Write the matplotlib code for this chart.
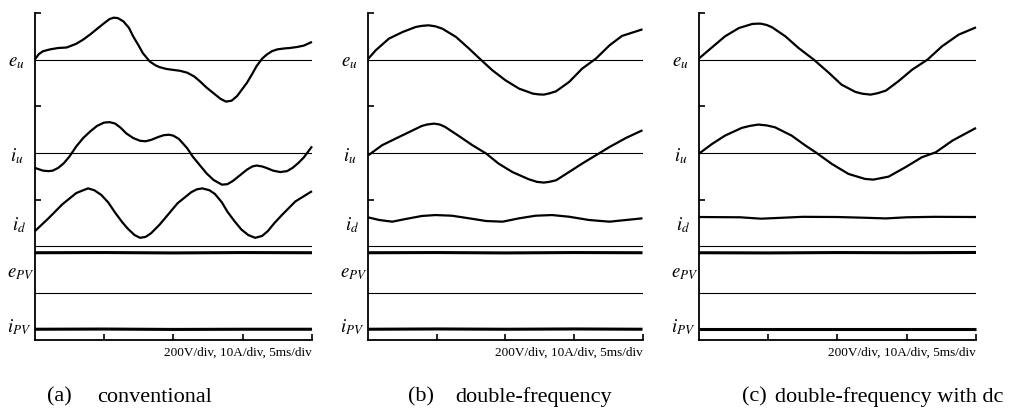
import matplotlib
matplotlib.use('Agg')
import matplotlib.pyplot as plt

plt.rcParams['font.family'] = 'Liberation Serif'
plt.rcParams['mathtext.fontset'] = 'stix'

W, H = 1015, 412
DPI = 100

# time in ms (5 ms/div), values in scope divisions relative to each channel's zero line
ZERO = {'eu': 3.0, 'iu': 2.0, 'id': 1.0, 'epv': 0.5, 'ipv': 0.0}
LABELS = {'eu': '$e_u$', 'iu': '$i_u$', 'id': '$i_d$', 'epv': '$e_{PV}$', 'ipv': '$i_{PV}$'}
LABEL_Y = {'eu': 2.97, 'iu': 1.97, 'id': 1.23, 'epv': 0.71, 'ipv': 0.13}
LABEL_DX = {'eu': -27, 'iu': -25, 'id': -23, 'epv': -28, 'ipv': -28}

# (a) conventional
a_eu_t = [0, 0.3, 0.6, 1.1, 1.7, 2.3, 3.0, 3.5, 4.0, 4.5, 5.0, 5.4, 5.7, 6.0, 6.4, 6.8, 7.1,
          7.5, 7.8, 8.3, 8.7, 9.0, 9.5, 10.0, 10.5, 11.0, 11.5, 11.9, 12.4, 12.9, 13.4, 13.8,
          14.2, 14.6, 15.0, 15.3, 15.7, 16.0, 16.4, 16.7, 17.1, 17.5, 18.0, 18.4, 18.9, 19.4, 20.0]
a_eu_v = [0.0, 0.06, 0.09, 0.11, 0.125, 0.13, 0.17, 0.215, 0.27, 0.33, 0.39, 0.435, 0.45,
          0.445, 0.41, 0.34, 0.25, 0.15, 0.07, -0.02, -0.06, -0.08, -0.10, -0.11, -0.12, -0.14,
          -0.18, -0.23, -0.30, -0.36, -0.42, -0.45, -0.44, -0.39, -0.31, -0.25, -0.15, -0.07,
          0.01, 0.05, 0.09, 0.11, 0.12, 0.125, 0.135, 0.15, 0.19]
a_iu_t = [0, 0.6, 1.0, 1.3, 1.7, 2.1, 2.5, 3.0, 3.5, 4.0, 4.5, 5.0, 5.4, 5.8, 6.2, 6.6, 7.1,
          7.6, 8.0, 8.4, 8.9, 9.3, 9.7, 10.0, 10.4, 10.7, 11.0, 11.4, 11.9, 12.4, 12.9, 13.5,
          13.9, 14.3, 14.8, 15.3, 15.7, 16.0, 16.4, 16.7, 17.2, 17.7, 18.2, 18.6, 19.0, 19.4,
          19.7, 20.0]
a_iu_v = [-0.16, -0.19, -0.195, -0.19, -0.16, -0.11, -0.04, 0.07, 0.16, 0.23, 0.29, 0.325,
          0.33, 0.315, 0.27, 0.21, 0.16, 0.13, 0.125, 0.14, 0.17, 0.19, 0.195, 0.185, 0.15,
          0.10, 0.05, -0.04, -0.13, -0.22, -0.29, -0.34, -0.335, -0.30, -0.24, -0.18, -0.145,
          -0.135, -0.145, -0.16, -0.19, -0.205, -0.195, -0.16, -0.11, -0.05, 0.01, 0.07]
a_id_t = [0, 1, 2, 3, 3.5, 3.85, 4.3, 4.8, 5.3, 5.8, 6.3, 6.7, 7.2, 7.6, 8.0, 8.4, 9.0, 9.4,
          10.3, 11.3, 11.7, 12.1, 12.6, 13.0, 13.5, 13.9, 14.4, 14.9, 15.4, 15.9, 16.4, 16.8,
          17.3, 17.8, 18.8, 20.0]
a_id_v = [0.16, 0.30, 0.45, 0.57, 0.60, 0.62, 0.60, 0.55, 0.47, 0.36, 0.26, 0.19, 0.12, 0.09,
          0.10, 0.14, 0.23, 0.30, 0.46, 0.58, 0.61, 0.62, 0.60, 0.56, 0.47, 0.37, 0.27, 0.18,
          0.12, 0.09, 0.11, 0.16, 0.25, 0.33, 0.48, 0.59]
a_epv_t = [0, 5, 10, 15, 20]
a_epv_v = [0.43, 0.432, 0.428, 0.432, 0.43]
a_ipv_t = [0, 5, 10, 15, 20]
a_ipv_v = [0.11, 0.112, 0.108, 0.11, 0.11]

# (b) double-frequency
b_eu_t = [0, 0.54, 1.5, 2.5, 3.45, 3.9, 4.4, 4.9, 5.4, 6.4, 7.35, 8.2, 9.05, 10.0, 11.0, 12.0,
          12.4, 12.8, 13.2, 13.7, 14.65, 15.6, 16.6, 17.6, 18.5, 20.0]
b_eu_v = [0.01, 0.10, 0.225, 0.296, 0.35, 0.362, 0.368, 0.357, 0.332, 0.243, 0.118, 0.0,
          -0.114, -0.221, -0.311, -0.364, -0.372, -0.375, -0.362, -0.339, -0.239, -0.096,
          0.011, 0.154, 0.254, 0.325]
b_iu_t = [0, 1.0, 2.0, 3.0, 3.9, 4.3, 4.8, 5.2, 5.6, 6.6, 7.6, 8.6, 9.5, 10.5, 11.7, 12.3,
          12.8, 13.2, 13.7, 14.65, 15.6, 16.6, 17.6, 18.8, 20.0]
b_iu_v = [-0.025, 0.082, 0.154, 0.225, 0.289, 0.305, 0.314, 0.305, 0.279, 0.182, 0.082,
          -0.007, -0.114, -0.204, -0.282, -0.31, -0.318, -0.31, -0.293, -0.204, -0.114, -0.025,
          0.064, 0.161, 0.243]
b_id_t = [0, 0.8, 1.75, 2.7, 3.9, 4.9, 6.1, 7.35, 8.6, 9.8, 11.0, 12.2, 13.4, 14.65, 16.1,
          17.6, 18.8, 20.0]
b_id_v = [0.309, 0.281, 0.263, 0.291, 0.324, 0.334, 0.327, 0.299, 0.27, 0.263, 0.299, 0.327,
          0.334, 0.316, 0.281, 0.263, 0.281, 0.299]
b_epv_t = [0, 5, 10, 15, 20]
b_epv_v = [0.43, 0.432, 0.428, 0.432, 0.43]
b_ipv_t = [0, 5, 10, 15, 20]
b_ipv_v = [0.11, 0.113, 0.11, 0.113, 0.11]

# (c) double-frequency with dc
c_eu_t = [0, 0.96, 1.9, 2.9, 3.85, 4.1, 4.45, 4.9, 5.3, 6.25, 7.2, 8.3, 9.4, 10.3, 11.3, 11.8,
          12.4, 12.9, 13.5, 14.4, 15.4, 16.5, 17.55, 18.75, 20.0]
c_eu_v = [0.01, 0.132, 0.25, 0.339, 0.382, 0.385, 0.386, 0.372, 0.346, 0.25, 0.125, 0.0,
          -0.143, -0.268, -0.346, -0.365, -0.375, -0.36, -0.332, -0.232, -0.107, 0.0, 0.143,
          0.268, 0.346]
c_iu_t = [0, 0.96, 1.9, 3.1, 3.7, 4.3, 4.9, 5.5, 6.7, 7.7, 8.5, 9.6, 10.8, 12.0, 12.6, 13.7,
          14.9, 16.1, 17.1, 18.3, 20.0]
c_iu_v = [-0.01, 0.096, 0.186, 0.268, 0.29, 0.304, 0.295, 0.275, 0.186, 0.079, 0.0, -0.118,
          -0.225, -0.279, -0.286, -0.254, -0.154, -0.046, 0.007, 0.132, 0.268]
c_id_t = [0, 3.0, 4.5, 6.0, 7.5, 10.0, 12.0, 13.5, 15.0, 17.0, 20.0]
c_id_v = [0.313, 0.31, 0.295, 0.305, 0.315, 0.313, 0.305, 0.298, 0.31, 0.315, 0.313]
c_epv_t = [0, 5, 10, 15, 20]
c_epv_v = [0.43, 0.428, 0.432, 0.43, 0.433]
c_ipv_t = [0, 5, 10, 15, 20]
c_ipv_v = [0.11, 0.11, 0.11, 0.11, 0.11]

PANELS = [
    (('(a)', 'conventional'), 34.7, 312.0, (47, 97),
     {'eu': (a_eu_t, a_eu_v), 'iu': (a_iu_t, a_iu_v), 'id': (a_id_t, a_id_v),
      'epv': (a_epv_t, a_epv_v), 'ipv': (a_ipv_t, a_ipv_v)}),
    (('(b)', 'double-frequency'), 368.3, 642.5, (408, 455),
     {'eu': (b_eu_t, b_eu_v), 'iu': (b_iu_t, b_iu_v), 'id': (b_id_t, b_id_v),
      'epv': (b_epv_t, b_epv_v), 'ipv': (b_ipv_t, b_ipv_v)}),
    (('(c)', 'double-frequency with dc'), 698.7, 976.0, (742, 775),
     {'eu': (c_eu_t, c_eu_v), 'iu': (c_iu_t, c_iu_v), 'id': (c_id_t, c_id_v),
      'epv': (c_epv_t, c_epv_v), 'ipv': (c_ipv_t, c_ipv_v)}),
]

TOP_PX, BOTTOM_PX = 13.0, 339.5


def plot_panel(fig, caption, left, right, cap_x, traces):
    ax = fig.add_axes([left / W, 1 - BOTTOM_PX / H, (right - left) / W, (BOTTOM_PX - TOP_PX) / H])
    ax.set_xlim(0, 20)
    ax.set_ylim(0, 3.5)
    for s in ['top', 'right']:
        ax.spines[s].set_visible(False)
    ax.spines['left'].set_linewidth(1.3)
    ax.spines['bottom'].set_linewidth(1.3)
    ax.set_xticks([5, 10, 15, 20])
    ax.set_yticks([1.5, 2.5, 3.5])
    ax.tick_params(direction='in', length=4, width=1.2, labelbottom=False, labelleft=False)

    # zero lines
    for key in ['eu', 'iu', 'id', 'epv']:
        ax.axhline(ZERO[key], color='black', lw=0.8, zorder=1)

    for key, (t, v) in traces.items():
        lw = 2.2 if key in ('epv', 'ipv') else 1.6
        ax.plot(t, [ZERO[key] + x for x in v], color='black', lw=lw, clip_on=False,
                solid_joinstyle='round', solid_capstyle='butt', zorder=3)
        ax.annotate(LABELS[key], xy=(0, LABEL_Y[key]), xytext=(LABEL_DX[key], 0),
                    textcoords='offset pixels', ha='left', va='center', fontsize=13.5)

    ax.text(20, -0.145, '200V/div, 10A/div, 5ms/div', ha='right', va='center', fontsize=9.5)
    fig.text(cap_x[0] / W, 1 - 397 / H, caption[0], ha='left', va='center', fontsize=16)
    fig.text(cap_x[1] / W, 1 - 397 / H, caption[1], ha='left', va='center', fontsize=16)


fig = plt.figure(figsize=(W / DPI, H / DPI), dpi=DPI)
for caption, left, right, cap_x, traces in PANELS:
    plot_panel(fig, caption, left, right, cap_x, traces)

fig.savefig('out.png', dpi=DPI)
